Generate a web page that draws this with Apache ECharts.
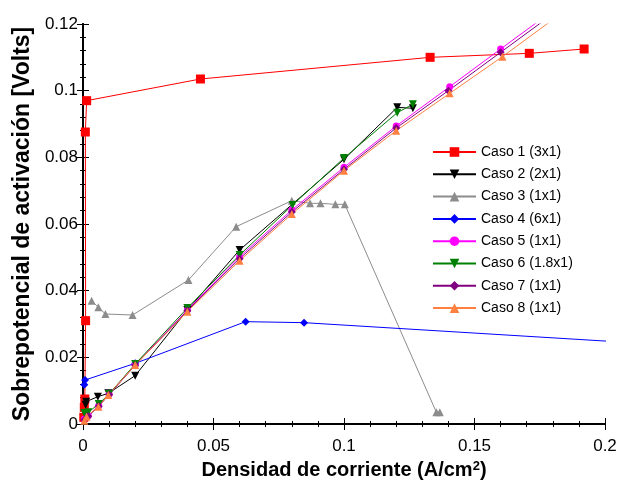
<!DOCTYPE html>
<html>
<head>
<meta charset="utf-8">
<script src="https://cdn.jsdelivr.net/npm/echarts@6/dist/echarts.min.js"></script>
<style>
  html, body { margin: 0; padding: 0; background: #fff; }
  #chart { width: 626px; height: 482px; }
</style>
</head>
<body>
<div id="chart"></div>
<script>
// data: [x (A/cm2), y (V)]
var caso1 = [[0.0003, 0.002], [0.0005, 0.005], [0.0007, 0.0075], [0.001, 0.031], [0.0009, 0.0876], [0.0014, 0.097], [0.045, 0.1035], [0.133, 0.110], [0.171, 0.1112], [0.192, 0.1125]]
var caso2 = [[0.001, 0.0058], [0.0012, 0.0067], [0.0057, 0.0082], [0.0097, 0.0092], [0.02, 0.0145], [0.04, 0.0342], [0.06, 0.0522], [0.1, 0.0794], [0.1204, 0.095], [0.1264, 0.0947]]
var caso3 = [[0.0033, 0.037], [0.0059, 0.035], [0.0086, 0.033], [0.019, 0.0327], [0.0404, 0.0432], [0.0587, 0.0592], [0.080, 0.067], [0.087, 0.0662], [0.091, 0.0662], [0.0967, 0.0659], [0.1003, 0.0659], [0.1354, 0.0035], [0.1367, 0.0035]]
var caso4 = [[0.0005, 0.0118], [0.0008, 0.0132], [0.02, 0.0182], [0.0623, 0.0307], [0.0847, 0.0304], [0.25, 0.0225]]
var caso5 = [[0.0005, 0.0015], [0.002, 0.0025], [0.006, 0.0055], [0.01, 0.009], [0.02, 0.0178], [0.04, 0.0342], [0.06, 0.0502], [0.08, 0.0642], [0.1, 0.077], [0.12, 0.0894], [0.1405, 0.1012], [0.16, 0.1125], [0.18, 0.124]]
var caso6 = [[0.0005, 0.0033], [0.002, 0.0035], [0.006, 0.006], [0.01, 0.009], [0.02, 0.018], [0.04, 0.0348], [0.06, 0.0507], [0.0803, 0.0657], [0.1, 0.0798], [0.1204, 0.0934], [0.1264, 0.0959]]
var caso7 = [[0.0005, 0.0012], [0.002, 0.0023], [0.006, 0.0053], [0.01, 0.0088], [0.02, 0.0176], [0.04, 0.034], [0.06, 0.0496], [0.08, 0.0636], [0.1, 0.0764], [0.12, 0.0888], [0.14, 0.1], [0.16, 0.1115], [0.18, 0.123]]
var caso8 = [[0.0005, 0.001], [0.0014, 0.0022], [0.0059, 0.0052], [0.0097, 0.0087], [0.02, 0.0177], [0.04, 0.0337], [0.06, 0.049], [0.08, 0.063], [0.1, 0.076], [0.12, 0.088], [0.1405, 0.0992], [0.1607, 0.1102], [0.18, 0.1213]]

var names = ['Caso 1 (3x1)', 'Caso 2 (2x1)', 'Caso 3 (1x1)', 'Caso 4 (6x1)', 'Caso 5 (1x1)', 'Caso 6 (1.8x1)', 'Caso 7 (1x1)', 'Caso 8 (1x1)']
var colors = ['#ff0000', '#000000', '#8c8c8c', '#0000ff', '#ff00ff', '#008000', '#800080', '#ff8040']
var symbols = ['rect', 'triangle', 'triangle', 'diamond', 'circle', 'triangle', 'diamond', 'triangle']
var rotates = [0, 180, 0, 0, 0, 180, 0, 0]
var sizes = [9, 8, 8, 8, 7, 8, 8, 8]
var allData = [caso1, caso2, caso3, caso4, caso5, caso6, caso7, caso8]

var myChart = echarts.init(document.getElementById('chart'))

var tickBase = {
  axisLine: { show: true, lineStyle: { color: '#000', width: 2 } },
  axisTick: { show: true, inside: true, length: 6, lineStyle: { color: '#000', width: 1 } },
  minorTick: { show: true, splitNumber: 5, length: 3, lineStyle: { color: '#000' } },
  splitLine: { show: false }
}

var series = allData.map(function (d, i) {
  return {
    name: names[i],
    type: 'line',
    data: d,
    color: colors[i],
    symbol: symbols[i],
    symbolRotate: rotates[i],
    symbolSize: sizes[i],
    showAllSymbol: true,
    clip: true,
    lineStyle: { width: 1, color: colors[i] },
    itemStyle: { color: colors[i] },
    animation: false
  }
})

myChart.setOption({
  backgroundColor: '#fff',
  animation: false,
  grid: { left: 83, right: 21, top: 24, bottom: 58, containLabel: false, outerBoundsMode: 'none' },
  legend: {
    orient: 'vertical',
    left: 427,
    top: 140,
    itemWidth: 43,
    itemHeight: 12,
    itemGap: 8.3,
    textStyle: { fontFamily: 'Liberation Sans, Arial', fontSize: 14, color: '#000' },
    data: names
  },
  xAxis: [
    Object.assign({
      type: 'value', min: 0, max: 0.2, interval: 0.05,
      name: 'Densidad de corriente (A/cm{sup|2})',
      nameLocation: 'middle', nameGap: 32,
      nameTextStyle: {
        fontFamily: 'Liberation Sans, Arial', fontSize: 20, fontWeight: 'bold', color: '#000',
        rich: { sup: { fontSize: 13, fontWeight: 'bold', verticalAlign: 'top', padding: [0, 0, 9, 0], fontFamily: 'Liberation Sans, Arial' } }
      },
      axisLabel: { fontFamily: 'Liberation Sans, Arial', fontSize: 17, color: '#000', margin: 14 }
    }, tickBase),
    Object.assign({
      type: 'value', min: 0, max: 0.2, interval: 0.05, position: 'top',
      axisLabel: { show: false }
    }, tickBase)
  ],
  yAxis: [
    Object.assign({
      type: 'value', min: 0, max: 0.12, interval: 0.02,
      name: 'Sobrepotencial de activación [Volts]',
      nameLocation: 'middle', nameGap: 33,
      nameTextStyle: { fontFamily: 'Liberation Sans, Arial', fontSize: 23, fontWeight: 'bold', color: '#000' },
      axisLabel: { fontFamily: 'Liberation Sans, Arial', fontSize: 17, color: '#000', margin: 5 }
    }, tickBase),
    Object.assign({
      type: 'value', min: 0, max: 0.12, interval: 0.02, position: 'right',
      axisLabel: { show: false }
    }, tickBase)
  ],
  series: series
})
</script>
</body>
</html>
